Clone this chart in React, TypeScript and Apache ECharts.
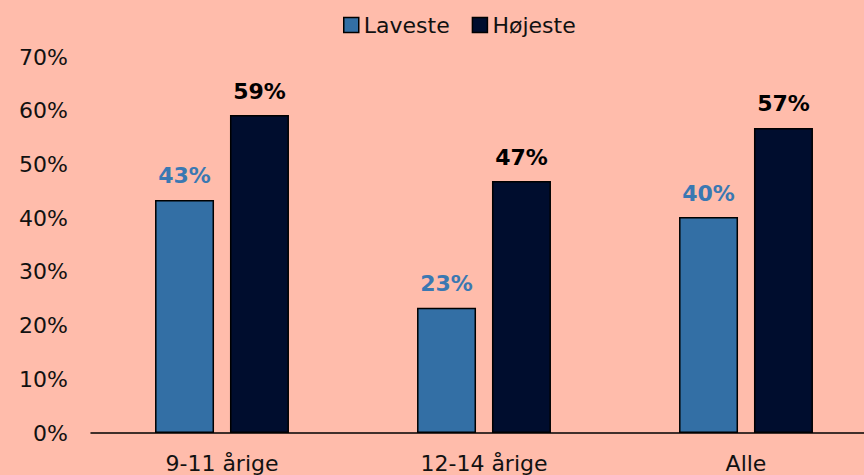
import React, { useEffect, useRef } from "react";
import * as echarts from "echarts";

const categories = ["9-11 årige", "12-14 årige", "Alle"];
const laveste = [43.4, 23.3, 40.2];
const hojeste = [59.2, 46.9, 56.8];
const seriesNames = ["Laveste", "Højeste"];

export default function App() {
  const ref = useRef<HTMLDivElement>(null);
  useEffect(() => {
    const chart = echarts.init(ref.current!, null, { renderer: "svg" });
    const font = "'DejaVu Sans', sans-serif";
    chart.setOption({
      animation: false,
      backgroundColor: "#FFBCAB",
      textStyle: { fontFamily: font },
      legend: {
        top: 9,
        left: 338,
        itemWidth: 15,
        itemHeight: 15,
        itemGap: 22,
        icon: "rect",
        textStyle: { fontSize: 22, color: "#111", fontFamily: font },
        data: seriesNames.map((n) => ({ name: n, itemStyle: { borderColor: "#000", borderWidth: 1.5 } })),
      },
      grid: {
        left: 91,
        width: 786,
        top: 57,
        bottom: 42,
        containLabel: false,
        outerBoundsMode: "none",
      },
      xAxis: {
        type: "category",
        data: categories,
        axisLine: { lineStyle: { color: "#000", width: 1.5 } },
        axisTick: { show: false },
        axisLabel: { fontSize: 22, color: "#111", margin: 19, fontFamily: font },
      },
      yAxis: {
        type: "value",
        min: 0,
        max: 70,
        interval: 10,
        splitLine: { show: false },
        axisLine: { show: false },
        axisTick: { show: false },
        axisLabel: {
          fontSize: 22,
          color: "#111",
          margin: 23,
          fontFamily: font,
          formatter: (v: number) => `${v}%`,
        },
      },
      series: [
        {
          name: seriesNames[0],
          type: "bar",
          data: laveste,
          barWidth: 59,
          barGap: "27%",
          itemStyle: { color: "#336FA5", borderColor: "#000", borderWidth: 1.5 },
          label: {
            show: true,
            position: "top",
            distance: 13,
            fontSize: 22,
            fontWeight: "bold",
            color: "#3A78B2",
            fontFamily: font,
            formatter: (p: any) => `${Math.round(p.value)}%`,
          },
        },
        {
          name: seriesNames[1],
          type: "bar",
          data: hojeste,
          barWidth: 59,
          itemStyle: { color: "#000D2E", borderColor: "#000", borderWidth: 1.5 },
          label: {
            show: true,
            position: "top",
            distance: 13,
            fontSize: 22,
            fontWeight: "bold",
            color: "#000",
            fontFamily: font,
            formatter: (p: any) => `${Math.round(p.value)}%`,
          },
        },
      ],
    });
    return () => chart.dispose();
  }, []);
  return <div ref={ref} style={{ width: 864, height: 475, position: "fixed", left: 0, top: 0 }} />;
}
